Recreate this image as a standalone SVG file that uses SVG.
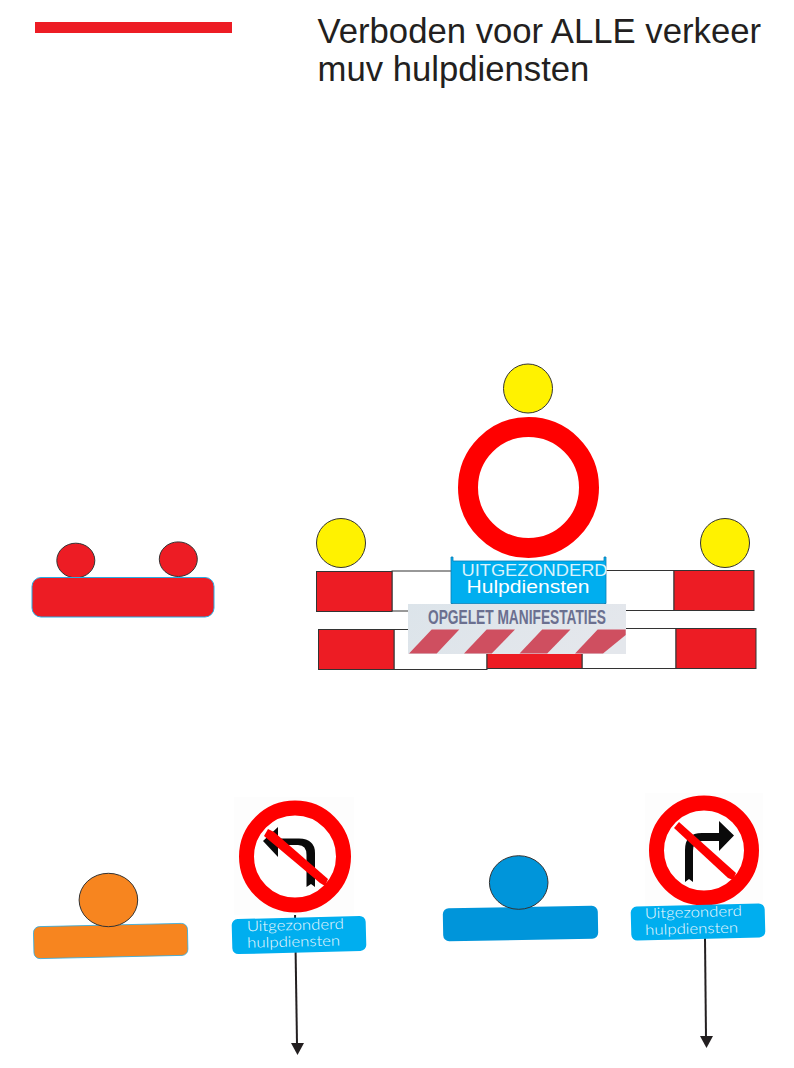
<svg xmlns="http://www.w3.org/2000/svg" width="794" height="1068" viewBox="0 0 794 1068">
<style>
.title{font-family:"Liberation Sans",Arial,sans-serif;font-size:34.700px;fill:#231F20}
.lamp{stroke:#333;stroke-width:1}
.red{fill:#ED1C24;stroke:#333;stroke-width:1}
.white{fill:#fff;stroke:#333;stroke-width:1}
.ring{fill:#fff;stroke:#FF0000}
.lbl{fill:#00AEEF}
.lt{font-family:"Lato","Open Sans",sans-serif;font-size:14.500px;font-weight:300;fill:#F0FAFE}
.ban{fill:#FF0000}
.arrowglyph{fill:#0A0A0A}
.stripe{fill:#CF4F60}
.conn{stroke:#231F20;stroke-width:2;fill:none}
.head{fill:#231F20}
</style>
<defs>
<linearGradient id="plate" x1="0" y1="0" x2="1" y2="0.3"><stop offset="0" stop-color="#DCE4EA"/><stop offset="1" stop-color="#E4E7EC"/></linearGradient>
</defs>
<rect width="794" height="1068" fill="#fff"/>
<g id="legend-line"><rect x="35" y="22" width="197" height="11" fill="#ED1C24"/></g>
<g id="title">
<text class="title" x="317.500" y="42.500">Verboden voor ALLE verkeer</text>
<text class="title" x="317.500" y="80.500">muv hulpdiensten</text>
</g>
<g id="connectors">
<path class="conn" d="M295 912L297 1044"/>
<path class="head" d="M291 1043H304L297.500 1055Z"/>
<path class="conn" d="M705 938L706 1037"/>
<path class="head" d="M700 1036H713L706.500 1048Z"/>
</g>
<g id="red-marker">
<ellipse class="lamp" cx="75.800" cy="560.500" rx="19" ry="17.300" fill="#ED1C24"/>
<ellipse class="lamp" cx="178.300" cy="559.200" rx="19" ry="17.300" fill="#ED1C24"/>
<rect x="32" y="577.500" width="182" height="39.500" rx="9" fill="#ED1C24" stroke="#29ABE2" stroke-width="1"/>
</g>
<g id="orange-marker">
<rect x="33.700" y="925" width="154" height="32" rx="6" transform="rotate(-1.300 110.700 941)" fill="#F7851F" stroke="#29ABE2" stroke-width="0.800"/>
<ellipse class="lamp" cx="108.400" cy="900" rx="29.300" ry="26.700" fill="#F7851F"/>
</g>
<g id="blue-marker">
<rect x="443" y="907" width="155" height="33" rx="6" transform="rotate(-1 520.500 923.700)" fill="#0095DA"/>
<ellipse class="lamp" cx="518.700" cy="882.500" rx="29.300" ry="26.800" fill="#0095DA"/>
</g>
<g id="barrier">
<circle class="lamp" cx="528" cy="388.500" r="24.500" fill="#FFF200"/>
<circle class="lamp" cx="341" cy="543" r="24.500" fill="#FFF200"/>
<circle class="lamp" cx="725" cy="543" r="24.500" fill="#FFF200"/>
<rect class="white" x="392" y="571" width="60" height="40"/>
<rect class="white" x="605" y="570.500" width="69" height="40"/>
<rect class="red" x="316.500" y="571.500" width="75.500" height="40"/>
<rect class="red" x="674" y="570.500" width="80" height="40"/>
<rect class="white" x="394" y="629.500" width="93" height="40"/>
<rect class="white" x="582" y="628.500" width="94" height="40"/>
<rect class="red" x="487" y="640" width="95" height="28.500"/>
<rect class="red" x="318.500" y="629.500" width="75.500" height="40"/>
<rect class="red" x="676" y="628.500" width="80" height="40"/>
<path d="M451 557H453V561H604V557H606V603.500H451Z" fill="#00AEEF" stroke="#0A7FB5" stroke-width="0.800"/>
<circle class="ring" cx="528.500" cy="487.500" r="60.500" stroke-width="20"/>
<text x="461.500" y="576" textLength="146" lengthAdjust="spacingAndGlyphs" font-family="Liberation Sans, Arial, sans-serif" font-size="16.500" fill="#D8F2FC">UITGEZONDERD</text>
<text x="466.500" y="593" textLength="123" lengthAdjust="spacingAndGlyphs" font-family="Liberation Sans, Arial, sans-serif" font-size="18" fill="#fff">Hulpdiensten</text>
<rect x="408" y="604" width="218" height="50" fill="url(#plate)"/>
<path class="stripe" d="M409 653.500L431.700 629.500H459.300L436.700 653.500Z"/>
<path class="stripe" d="M464 653.500L486.700 629.500H515L491.700 653.500Z"/>
<path class="stripe" d="M519.500 653.500L542.200 629.500H570.500L547.200 653.500Z"/>
<path class="stripe" d="M575 653.500L597.700 629.500H625.700V635L603 653.500Z"/>
<text x="428" y="624" textLength="178" lengthAdjust="spacingAndGlyphs" font-family="Liberation Sans, Arial, sans-serif" font-size="21" font-weight="700" fill="#6B7090">OPGELET MANIFESTATIES</text>
</g>
<g id="sign-left">
<rect x="234" y="797" width="120" height="118" fill="#FDFDFD"/>
<circle class="ring" cx="295" cy="856.500" r="48.500" stroke-width="15"/>
<path class="arrowglyph" d="M278 827L263 841L278 857V845H298Q306.500 845 306.500 855V887L311 884L315 887V853Q315 839 299 838.500H278Z"/>
<path class="ban" d="M268 829L274 832L328 879L325 886L320 883L264 836Z"/>
<g transform="rotate(-1.500 299 935)">
<rect class="lbl" x="232" y="917.500" width="134" height="35" rx="6"/>
<text class="lt" x="247" y="930" textLength="97" lengthAdjust="spacingAndGlyphs">Uitgezonderd</text>
<text class="lt" x="247" y="946.500" textLength="93" lengthAdjust="spacingAndGlyphs">hulpdiensten</text>
</g>
</g>
<g id="sign-right">
<rect x="645" y="793" width="118" height="115" fill="#FDFDFD"/>
<circle class="ring" cx="704" cy="850.500" r="47.500" stroke-width="15"/>
<path class="arrowglyph" d="M719 821L734 835.500L719 851V841H702Q693 841 693 851V882L689 879L685 882V850Q685 833 702 833H719Z"/>
<path class="ban" d="M674 828L679 822L736 873L733 880L728 878Z"/>
<g transform="rotate(-1.500 698 922)">
<rect class="lbl" x="631" y="905" width="134" height="34" rx="6"/>
<text class="lt" x="645" y="917" textLength="97" lengthAdjust="spacingAndGlyphs">Uitgezonderd</text>
<text class="lt" x="645" y="933.500" textLength="93" lengthAdjust="spacingAndGlyphs">hulpdiensten</text>
</g>
</g>
</svg>
